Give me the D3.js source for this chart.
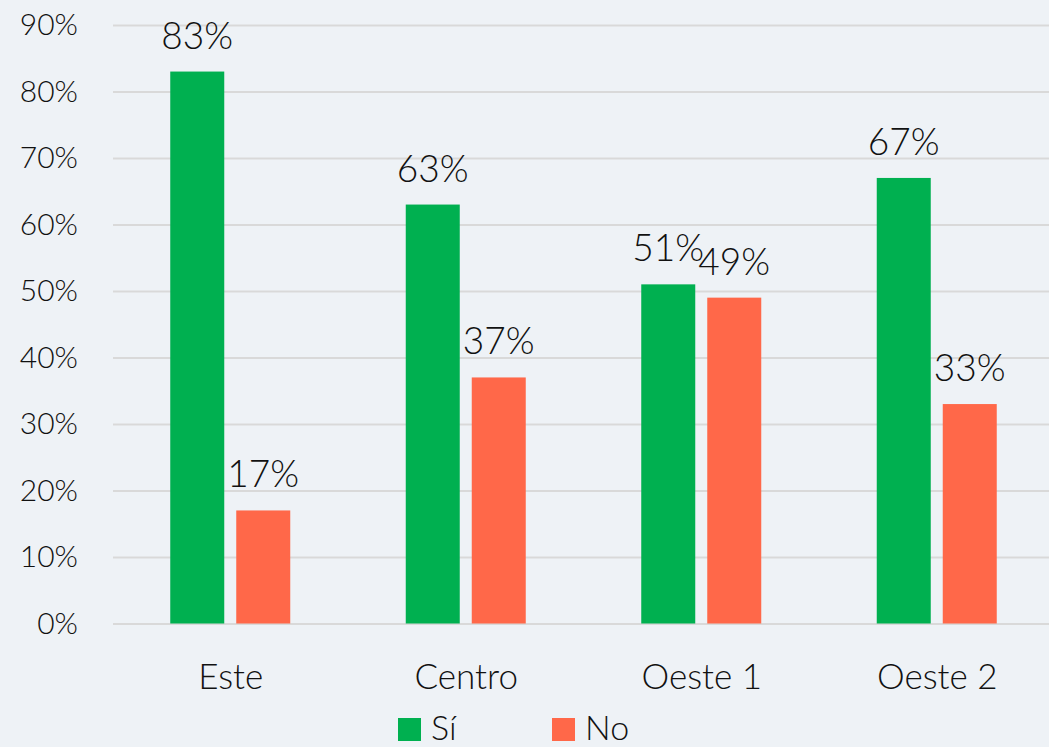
<!DOCTYPE html>
<html lang="es">
<head>
<meta charset="utf-8">
<title>Sí / No por zona</title>
<script src="https://d3js.org/d3.v7.min.js"></script>
<style>
  html, body { margin: 0; padding: 0; background: #eef2f6; }
  svg { display: block; font-family: Lato, "Noto Sans", sans-serif; font-weight: 300; }
</style>
</head>
<body>
<script>
// data
var categories = ["Este", "Centro", "Oeste 1", "Oeste 2"];
var seriesNames = ["Sí", "No"];
var siValues = [0.83, 0.63, 0.51, 0.67];
var noValues = [0.17, 0.37, 0.49, 0.33];
var yTicks = [0, 0.1, 0.2, 0.3, 0.4, 0.5, 0.6, 0.7, 0.8, 0.9];
var colors = ["#00b050", "#ff6849"];

var width = 1049, height = 747;
var margin = {top: 25, right: 0, bottom: 123, left: 113};

var svg = d3.select("body").append("svg")
    .attr("width", width)
    .attr("height", height);

svg.append("rect")
    .attr("width", width).attr("height", height)
    .attr("fill", "#eef2f6");

var x = d3.scaleBand()
    .domain(categories)
    .range([margin.left, 1055])
    .paddingInner(0).paddingOuter(0);

var y = d3.scaleLinear()
    .domain([0, 0.9])
    .range([height - margin.bottom - 0.5, margin.top]);

var barW = 54, gap = 12;
var mid = x.bandwidth() / 2 - 0.5;
var xs = d3.scaleBand().domain(seriesNames)
    .range([mid - barW - gap / 2, mid + barW + gap / 2])
    .paddingInner(gap / (barW + gap));

// grid lines
var grid = svg.append("g")
    .attr("transform", "translate(" + margin.left + ",0)")
    .call(d3.axisLeft(y).tickValues(yTicks).tickSize(-(width - margin.left)).tickFormat(""));
grid.select(".domain").remove();
grid.selectAll("line").attr("stroke", "#d9d9d9").attr("stroke-width", 2);

// y labels
var yAxis = svg.append("g")
    .attr("transform", "translate(" + margin.left + ",0)")
    .call(d3.axisLeft(y).tickValues(yTicks).tickSize(0).tickPadding(35).tickFormat(d3.format(".0%")));
yAxis.select(".domain").remove();
yAxis.selectAll("text")
    .attr("font-size", 30)
    .attr("font-family", "Lato, sans-serif")
    .attr("fill", "#111");

// x labels
var xAxis = svg.append("g")
    .attr("transform", "translate(0," + (height - margin.bottom) + ")")
    .call(d3.axisBottom(x).tickSize(0).tickPadding(40));
xAxis.select(".domain").remove();
xAxis.selectAll("text")
    .attr("font-size", 35)
    .attr("font-family", "Lato, sans-serif")
    .attr("fill", "#111");

var rows = categories.map(function(c, i) {
  return {cat: c, vals: [siValues[i], noValues[i]]};
});

var groups = svg.selectAll(".grp")
    .data(rows)
    .enter().append("g")
    .attr("class", "grp")
    .attr("transform", function(d) { return "translate(" + x(d.cat) + ",0)"; });

groups.selectAll("rect")
    .data(function(d) { return d.vals.map(function(v, j) { return {s: seriesNames[j], v: v, j: j}; }); })
    .enter().append("rect")
    .attr("x", function(d) { return xs(d.s); })
    .attr("width", xs.bandwidth())
    .attr("y", function(d) { return y(d.v); })
    .attr("height", function(d) { return y(0) - y(d.v); })
    .attr("fill", function(d) { return colors[d.j]; });

groups.selectAll("text.val")
    .data(function(d) { return d.vals.map(function(v, j) { return {s: seriesNames[j], v: v, j: j}; }); })
    .enter().append("text")
    .attr("class", "val")
    .attr("x", function(d) { return xs(d.s) + xs.bandwidth() / 2; })
    .attr("y", function(d) { return y(d.v) - 23; })
    .attr("text-anchor", "middle")
    .attr("font-size", 37)
    .attr("fill", "#111")
    .text(function(d) { return d3.format(".0%")(d.v); });

// legend
var legend = svg.append("g").attr("transform", "translate(398,718)");
var items = legend.selectAll("g")
    .data(seriesNames)
    .enter().append("g")
    .attr("transform", function(d, i) { return "translate(" + (i * 154) + ",0)"; });
items.append("rect")
    .attr("width", 23).attr("height", 23)
    .attr("fill", function(d, i) { return colors[i]; });
items.append("text")
    .attr("x", 33).attr("y", 22)
    .attr("font-size", 34)
    .attr("fill", "#111")
    .text(function(d) { return d; });
</script>
</body>
</html>
